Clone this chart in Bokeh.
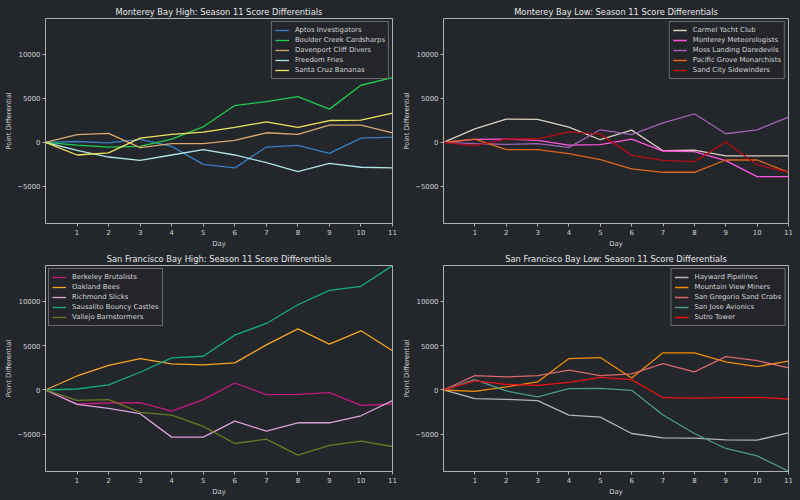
from bokeh.plotting import figure
from bokeh.layouts import column, row
from bokeh.models import FixedTicker, Range1d, LinearAxis
from bokeh.embed import file_html
from bokeh.resources import INLINE

days = list(range(12))
x_ticks = list(range(1, 12))
y_ticks = [-5000, 0, 5000, 10000]
y_tick_labels = {-5000: "\u22125000", 0: "0", 5000: "5000", 10000: "10000"}

# Monterey Bay High
aptos = [0, 100, -50, 350, -450, -2500, -2900, -530, -340, -1240, 490, 600]
boulder_creek = [0, -300, -530, -450, 380, 1770, 4180, 4630, 5200, 3770, 6480, 7340]
davenport = [0, 870, 1020, -600, -150, -150, 230, 1090, 900, 1960, 1960, 1090]
freedom_fries = [0, -900, -1660, -2030, -1430, -830, -1430, -2300, -3310, -2370, -2820, -2900]
santa_cruz = [0, -1430, -1200, 490, 900, 1170, 1690, 2330, 1690, 2480, 2520, 3310]

# Monterey Bay Low
carmel = [0, 1540, 2640, 2600, 1730, 300, 1390, -940, -870, -1540, -1540, -1540]
monterey = [0, 340, 380, 230, -300, -260, 380, -980, -1050, -2070, -3880, -3880]
moss_landing = [0, -150, -230, -150, -560, 1430, 870, 2220, 3240, 980, 1430, 2860]
pacific_grove = [0, 380, -830, -830, -1280, -1960, -3010, -3390, -3390, -2000, -2000, -3390]
sand_city = [0, -380, 380, 410, 1200, 940, -1470, -2030, -2180, 80, -2560, -3390]

# San Francisco Bay High
berkeley = [0, -1580, -1470, -1430, -2380, -1090, 790, -530, -490, -300, -1740, -1580]
oakland = [0, 1580, 2790, 3550, 2940, 2830, 3060, 5090, 6900, 5170, 6680, 4420]
richmond = [0, -1620, -2080, -2680, -5320, -5320, -3510, -4640, -3700, -3700, -2910, -1210]
sausalito = [0, 110, 570, 2000, 3620, 3810, 6190, 7510, 9620, 11250, 11700, 14040]
vallejo = [0, -1170, -1090, -2530, -2830, -4110, -6040, -5550, -7360, -6260, -5770, -6380]

# San Francisco Bay Low
hayward = [0, -980, -1060, -1210, -2830, -3060, -4910, -5400, -5430, -5620, -5660, -4830]
mountain_view = [0, -150, 340, 910, 3550, 3660, 1360, 4190, 4190, 3170, 2640, 3250]
san_gregorio = [0, 1620, 1470, 1620, 2230, 1620, 1810, 2980, 2040, 3770, 3320, 2490]
san_jose = [0, 1170, -110, -790, 150, 190, -40, -2830, -4910, -6600, -7430, -9170]
sutro = [0, 1020, 640, 530, 870, 1430, 1170, -870, -910, -870, -830, -1020]

BG = "#23262b"
FG = "#d4d4d4"
SPINE = "#b0b0b0"
FONT = "DejaVu Sans"
SMALL = "6.9px"

panels = [
    ("Monterey Bay High: Season 11 Score Differentials", [
        ("Aptos Investigators", aptos, "#3a7fc2"),
        ("Boulder Creek Cardsharps", boulder_creek, "#1fcc4f"),
        ("Davenport Cliff Divers", davenport, "#d9a86e"),
        ("Freedom Fries", freedom_fries, "#aee6e6"),
        ("Santa Cruz Bananas", santa_cruz, "#f2e35c"),
    ], "top_right", True, True),
    ("Monterey Bay Low: Season 11 Score Differentials", [
        ("Carmel Yacht Club", carmel, "#d9d0c0"),
        ("Monterey Meteorologists", monterey, "#ff55dd"),
        ("Moss Landing Daredevils", moss_landing, "#a262b4"),
        ("Pacific Grove Monarchists", pacific_grove, "#e2661c"),
        ("Sand City Sidewinders", sand_city, "#b50a14"),
    ], "top_right", False, True),
    ("San Francisco Bay High: Season 11 Score Differentials", [
        ("Berkeley Brutalists", berkeley, "#c41a80"),
        ("Oakland Bees", oakland, "#f5a623"),
        ("Richmond Slicks", richmond, "#dba2dc"),
        ("Sausalito Bouncy Castles", sausalito, "#14ad80"),
        ("Vallejo Barnstormers", vallejo, "#6b7a22"),
    ], "top_left", True, False),
    ("San Francisco Bay Low: Season 11 Score Differentials", [
        ("Hayward Pipelines", hayward, "#b4b4b4"),
        ("Mountain View Miners", mountain_view, "#f08c00"),
        ("San Gregorio Sand Crabs", san_gregorio, "#d86868"),
        ("San Jose Avionics", san_jose, "#4c9c8a"),
        ("Sutro Tower", sutro, "#e81212"),
    ], "top_right", False, False),
]


def style_axis(ax):
    ax.axis_line_color = SPINE
    ax.major_tick_line_color = SPINE
    ax.major_tick_out = 3
    ax.major_tick_in = 0
    ax.minor_tick_line_color = None
    ax.major_label_text_font = FONT
    ax.major_label_text_font_size = SMALL
    ax.major_label_text_color = FG
    ax.major_label_standoff = 2
    ax.axis_label_text_font = FONT
    ax.axis_label_text_font_size = SMALL
    ax.axis_label_text_font_style = "normal"
    ax.axis_label_text_color = FG
    ax.axis_label_standoff = 2


def make_panel(title, teams, legend_loc, left, top):
    p = figure(width=400, height=250, output_backend="svg", toolbar_location=None,
               x_range=Range1d(0, 11), y_range=Range1d(-9200, 14050),
               min_border_left=45 if left else 42,
               min_border_right=8 if left else 12,
               min_border_top=18 if top else 15,
               min_border_bottom=26 if top else 29,
               background_fill_color=BG, border_fill_color=None,
               outline_line_color=None)
    p.title.text = title
    p.title.align = "center"
    p.title.text_font = FONT
    p.title.text_font_size = "8.3px"
    p.title.text_font_style = "normal"
    p.title.text_color = "#e6e6e6"
    p.title.standoff = 3
    p.grid.visible = False
    for name, vals, col in teams:
        p.line(days, vals, line_color=col, line_width=1.3, legend_label=name)
    style_axis(p.xaxis[0])
    style_axis(p.yaxis[0])
    p.yaxis.axis_label_standoff = 1
    p.xaxis.ticker = FixedTicker(ticks=x_ticks)
    p.yaxis.ticker = FixedTicker(ticks=y_ticks)
    p.yaxis.major_label_overrides = y_tick_labels
    p.xaxis.axis_label = "Day"
    p.yaxis.axis_label = "Point Differential"
    # top and right spines
    for side in ("above", "right"):
        sp = LinearAxis(ticker=FixedTicker(ticks=[]), major_label_text_font_size="0px",
                        axis_line_color=SPINE, major_tick_line_color=None,
                        minor_tick_line_color=None)
        p.add_layout(sp, side)
    lg = p.legend[0]
    lg.location = legend_loc
    lg.background_fill_color = BG
    lg.background_fill_alpha = 0.8
    lg.border_line_color = SPINE
    lg.border_line_width = 1
    lg.label_text_font = FONT
    lg.label_text_font_size = SMALL
    lg.label_text_color = FG
    lg.glyph_width = 14
    lg.glyph_height = 10
    lg.label_height = 10
    lg.label_width = 10
    lg.label_standoff = 6
    lg.spacing = 0
    lg.padding = 3
    lg.margin = 3
    return p


figs = [make_panel(*args) for args in panels]
layout = column(row(figs[0], figs[1], styles={"background-color": BG}),
                row(figs[2], figs[3], styles={"background-color": BG}),
                styles={"background-color": BG})

open("out.html", "w").write(file_html(layout, INLINE))
